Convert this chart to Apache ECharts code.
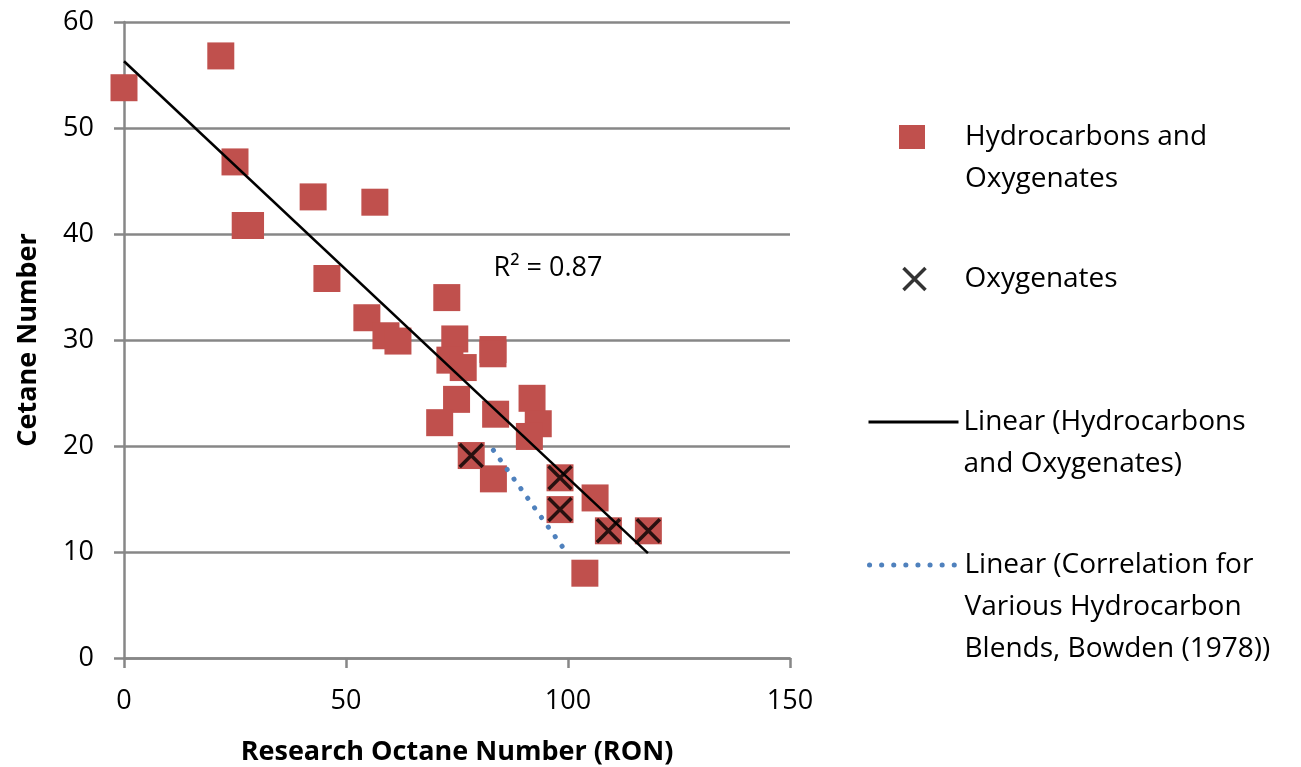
<!DOCTYPE html>
<html><head><meta charset="utf-8">
<script src="https://cdn.jsdelivr.net/npm/echarts@6/dist/echarts.min.js"></script>
<style>html,body{margin:0;padding:0;background:#fff}#c{width:1301px;height:767px}</style>
</head><body><div id="c"></div>
<script>
// Hydrocarbons and Oxygenates (RON, Cetane Number)
const hcX = [0, 21.8, 25.0, 27.3, 28.5, 42.6, 56.5, 45.7, 54.7, 59.0, 61.7, 72.7, 74.5, 73.4, 76.4, 83.1, 83.1, 74.9, 71.1, 83.7, 91.9, 93.3, 91.3, 78.2, 83.2, 98.2, 98.2, 106.1, 109.1, 118.1, 103.8];
const hcY = [53.8, 56.8, 46.8, 40.8, 40.8, 43.5, 43.0, 35.8, 32.1, 30.4, 29.9, 34.0, 30.1, 28.1, 27.4, 29.1, 28.7, 24.4, 22.2, 23.0, 24.5, 22.1, 20.9, 19.1, 16.9, 17.0, 14.0, 15.1, 12.0, 12.0, 8.0];
// Oxygenates
const oxX = [78.2, 98.2, 98.2, 109.1, 118.1];
const oxY = [19.1, 17.0, 14.0, 12.0, 12.0];
// Linear trend (Hydrocarbons and Oxygenates), endpoints
const trendX = [0, 118];
const trendY = [56.3, 9.9];
// Linear (Bowden 1978 correlation)
const bowdenX = [83.2, 100.1];
const bowdenY = [19.6, 9.7];
// Axis ticks
const xTicks = [0, 50, 100, 150];
const yTicks = [0, 10, 20, 30, 40, 50, 60];
const rSquared = 'R² = 0.87';

const names = [
  'Hydrocarbons and Oxygenates',
  'Oxygenates',
  'Linear (Hydrocarbons and Oxygenates)',
  'Linear (Correlation for Various Hydrocarbon Blends, Bowden (1978))'
];
const legendText = {};
legendText[names[0]] = '\nHydrocarbons and\nOxygenates';
legendText[names[1]] = 'Oxygenates';
legendText[names[2]] = '\nLinear (Hydrocarbons\nand Oxygenates)';
legendText[names[3]] = '\n\nLinear (Correlation for\nVarious Hydrocarbon\nBlends, Bowden (1978))';

const zip = (a, b) => a.map((v, i) => [v, b[i]]);
const FONT = 'Open Sans';
const AX = '#878787';
const xPath = 'path://M0,0L20,20M20,0L0,20';

function mkLegend(name, left, top, extra, textPad) {
  const o = {
    data: [name], orient: 'vertical', left: left, top: top, padding: 0,
    itemWidth: 90, itemHeight: 24, selectedMode: false,
    formatter: n => legendText[n],
    textStyle: { fontFamily: FONT, fontSize: 28, lineHeight: 42, color: '#000', padding: [0, 0, 0, textPad || 0] }
  };
  return Object.assign(o, extra || {});
}

const chart = echarts.init(document.getElementById('c'));
chart.setOption({
  animation: false,
  backgroundColor: '#fff',
  grid: { left: 124, right: 511, top: 22, bottom: 109, outerBoundsMode: 'none' },
  xAxis: {
    type: 'value', min: xTicks[0], max: xTicks[xTicks.length - 1], interval: xTicks[1] - xTicks[0],
    name: 'Research Octane Number (RON)', nameLocation: 'middle', nameGap: 81,
    nameTextStyle: { fontFamily: FONT, fontSize: 27, fontWeight: 'bold', color: '#000' },
    axisLine: { show: true, onZero: false, lineStyle: { color: AX, width: 2.5 } },
    axisTick: { show: true, inside: false, length: 10, lineStyle: { color: AX, width: 2.5 } },
    axisLabel: { margin: 30, fontFamily: FONT, fontSize: 27, color: '#000' },
    splitLine: { show: false }
  },
  yAxis: {
    type: 'value', min: yTicks[0], max: yTicks[yTicks.length - 1], interval: yTicks[1] - yTicks[0],
    name: 'Cetane Number', nameLocation: 'middle', nameGap: 82, nameRotate: 90,
    nameTextStyle: { fontFamily: FONT, fontSize: 27, fontWeight: 'bold', color: '#000' },
    axisLine: { show: true, onZero: false, lineStyle: { color: AX, width: 2.5 } },
    axisTick: { show: true, inside: false, length: 10, lineStyle: { color: AX, width: 2.5 } },
    axisLabel: { margin: 30, fontFamily: FONT, fontSize: 27, color: '#000' },
    splitLine: { show: true, lineStyle: { color: AX, width: 2.5 } }
  },
  legend: [
    mkLegend(names[0], 899, 74, { itemWidth: 26, itemHeight: 24 }, 35),
    mkLegend(names[1], 901, 258, { itemWidth: 22, itemHeight: 22, itemStyle: { borderWidth: 3.5 } }, 34),
    mkLegend(names[2], 867, 359, { itemStyle: { opacity: 0 }, lineStyle: { width: 3 } }),
    mkLegend(names[3], 867, 460, { itemStyle: { opacity: 0 }, lineStyle: { width: 5, type: [0.1, 12], cap: 'round' } })
  ],
  graphic: [{
    type: 'text', x: 548, y: 268,
    style: { text: rSquared, fontFamily: FONT, fontSize: 27, fill: '#000', align: 'center', verticalAlign: 'middle' }
  }],
  series: [
    {
      name: names[0], type: 'scatter', symbol: 'rect', symbolSize: 27,
      itemStyle: { color: '#C0504D', opacity: 1 },
      emphasis: { disabled: true }, z: 2,
      data: zip(hcX, hcY)
    },
    {
      name: names[1], type: 'scatter', symbol: xPath, symbolSize: 23,
      itemStyle: { color: 'none', borderColor: '#000', borderWidth: 3.5 },
      emphasis: { disabled: true }, z: 5,
      data: zip(oxX, oxY)
    },
    {
      name: names[2], type: 'line', symbol: 'none', silent: true, z: 3,
      lineStyle: { color: '#000', width: 2.5 },
      data: zip(trendX, trendY)
    },
    {
      name: names[3], type: 'line', symbol: 'none', silent: true, z: 3,
      lineStyle: { color: '#4F81BD', width: 5, type: [0.1, 11.7], cap: 'round' },
      data: zip(bowdenX, bowdenY)
    }
  ]
});
</script>
</body></html>
